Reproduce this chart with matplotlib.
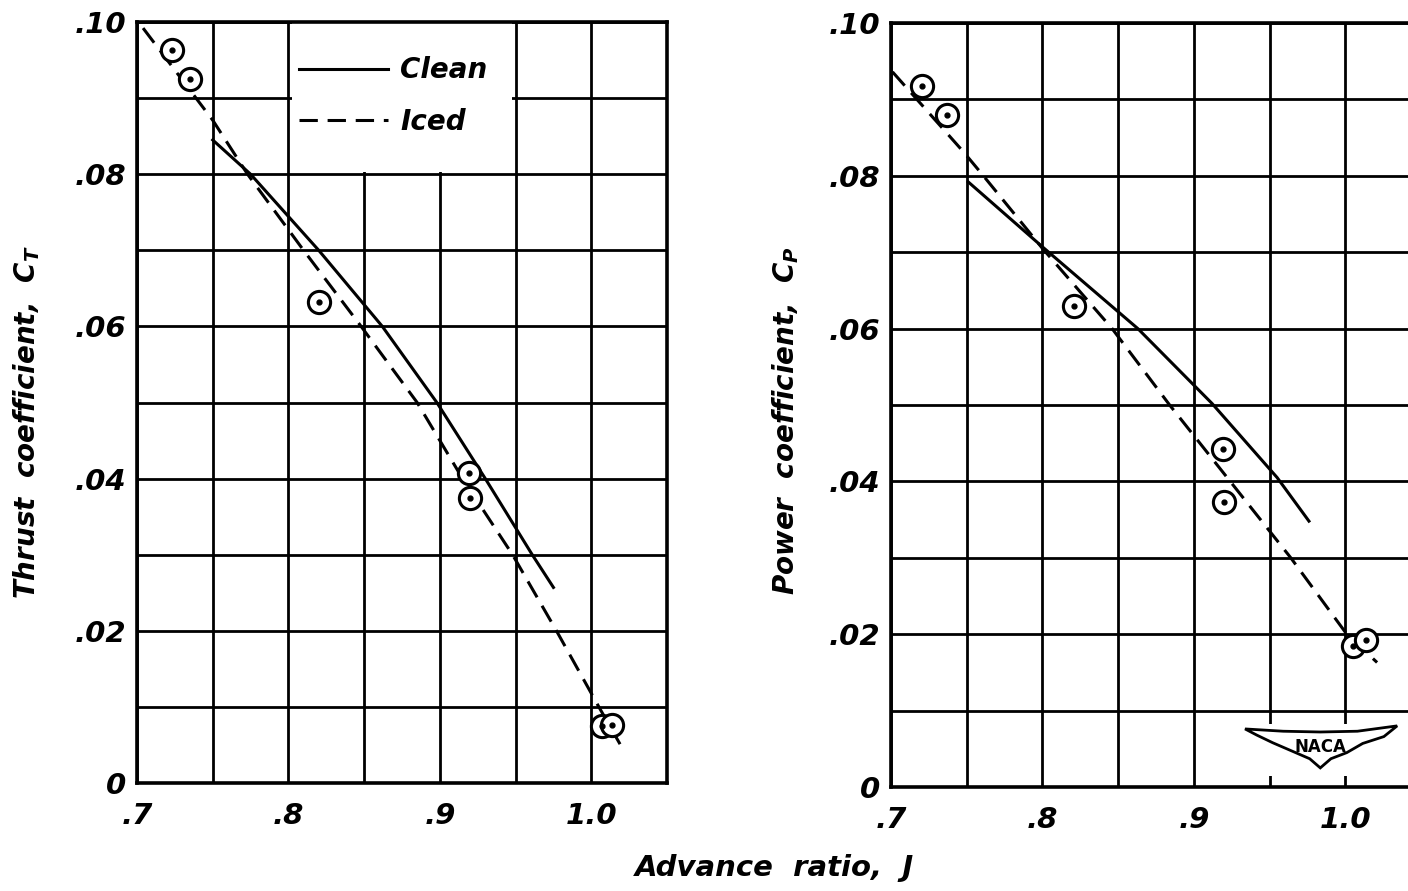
import numpy as np
import matplotlib
matplotlib.use("Agg")
import matplotlib.pyplot as plt
from matplotlib.patches import Rectangle, Polygon

plt.rcParams['font.family'] = ['DejaVu Sans']
plt.rcParams['font.weight'] = 'bold'
plt.rcParams['font.style'] = 'italic'
plt.rcParams['axes.labelweight'] = 'bold'
plt.rcParams['mathtext.fontset'] = 'custom'
plt.rcParams['mathtext.it'] = 'DejaVu Sans:italic:bold'
plt.rcParams['mathtext.rm'] = 'DejaVu Sans:italic:bold'

# thrust coefficient (left)
j_ct_clean = [0.750, 0.775, 0.820, 0.862, 0.898, 0.930, 0.961, 0.975]
ct_clean = [0.0845, 0.0800, 0.0700, 0.0600, 0.0500, 0.0400, 0.0300, 0.0257]
j_ct_iced = [0.704, 0.750, 0.773, 0.810, 0.848, 0.885, 0.915, 0.948, 0.977, 1.005, 1.019]
ct_iced = [0.0992, 0.0871, 0.0800, 0.0700, 0.0600, 0.0500, 0.0400, 0.0300, 0.0200, 0.0100, 0.0051]
j_ct_pts = [0.723, 0.735, 0.820, 0.919, 0.920, 1.007, 1.014]
ct_pts = [0.0963, 0.0925, 0.0632, 0.0407, 0.0375, 0.0075, 0.0076]

# power coefficient (right)
j_cp_clean = [0.751, 0.800, 0.863, 0.912, 0.955, 0.976]
cp_clean = [0.0792, 0.0707, 0.0600, 0.0502, 0.0405, 0.0348]
j_cp_iced = [0.701, 0.748, 0.761, 0.800, 0.846, 0.884, 0.924, 0.964, 1.001, 1.021]
cp_iced = [0.0936, 0.0831, 0.0800, 0.0705, 0.0600, 0.0500, 0.0400, 0.0300, 0.0200, 0.0163]
j_cp_pts = [0.7205, 0.737, 0.821, 0.919, 0.920, 1.005, 1.014]
cp_pts = [0.0917, 0.0879, 0.0630, 0.0442, 0.0373, 0.0185, 0.0193]

x_major = [0.7, 0.8, 0.9, 1.0]
x_labels = ['.7', '.8', '.9', '1.0']
y_major = [0, 0.02, 0.04, 0.06, 0.08, 0.10]
y_labels = ['0', '.02', '.04', '.06', '.08', '.10']

W, H = 1408, 891
fig = plt.figure(figsize=(W / 100, H / 100), dpi=100)
ax1 = fig.add_axes([137 / W, 1 - 783 / H, 530 / W, 761 / H])
ax2 = fig.add_axes([891 / W, 1 - 787 / H, 530 / W, 764 / H])

dash = (0, (6, 3.2))
lw = 2.2


def setup(ax):
    ax.set_xlim(0.7, 1.05)
    ax.set_ylim(0, 0.10)
    ax.set_xticks(x_major)
    ax.set_xticklabels(x_labels)
    ax.set_xticks(np.arange(0.75, 1.05, 0.1), minor=True)
    ax.set_yticks(y_major)
    ax.set_yticklabels(y_labels)
    ax.set_yticks(np.arange(0.01, 0.10, 0.02), minor=True)
    ax.grid(which='both', color='black', lw=2.0)
    ax.tick_params(which='both', length=0, labelsize=21)
    ax.tick_params(axis='x', pad=14)
    ax.tick_params(axis='y', pad=8)
    for s in ax.spines.values():
        s.set_linewidth(2.6)
    ax.set_axisbelow(True)


def draw(ax, jc, yc, ji, yi, jp, yp):
    ax.plot(jc, yc, color='black', lw=lw, label='Clean', zorder=3,
            solid_joinstyle='round')
    ax.plot(ji, yi, color='black', lw=lw, ls=dash, label='Iced', zorder=3)
    ax.plot(jp, yp, ls='none', marker='o', ms=16, mfc='white', mec='black',
            mew=2.2, zorder=4)
    ax.plot(jp, yp, ls='none', marker='o', ms=3.5, color='black', zorder=5)


setup(ax1)
setup(ax2)
draw(ax1, j_ct_clean, ct_clean, j_ct_iced, ct_iced, j_ct_pts, ct_pts)
draw(ax2, j_cp_clean, cp_clean, j_cp_iced, cp_iced, j_cp_pts, cp_pts)

# legend box blanks out the grid
ax1.add_patch(Rectangle((0.8025, 0.0803), 0.145, 0.0197, facecolor='white',
                        edgecolor='none', zorder=2))
leg = ax1.legend(loc='upper left', bbox_to_anchor=(0.305, 0.955), frameon=False,
                 fontsize=20, handlelength=3.2, handletextpad=0.45,
                 labelspacing=0.85, borderpad=0, borderaxespad=0)

ax1.set_ylabel(r'Thrust  coefficient,  $C_T$', fontsize=20)
ax1.yaxis.set_label_coords(-0.18, 0.474)
ax2.set_ylabel(r'Power  coefficient,  $C_P$', fontsize=20)
ax2.yaxis.set_label_coords(-0.17, 0.480)

fig.text(775 / W, 1 - 868 / H, 'Advance  ratio,  J', fontsize=21,
         ha='center', va='center')

# NACA wing logo (axes fractions)
tr = ax2.transAxes
ax2.add_patch(Rectangle((0.69, 0.014), 0.24, 0.069, transform=tr,
                        facecolor='white', edgecolor='none', zorder=2))
wing = [(0.668, 0.076), (0.74, 0.073), (0.81, 0.072), (0.88, 0.073),
        (0.955, 0.080), (0.93, 0.066), (0.89, 0.057), (0.86, 0.045),
        (0.83, 0.037), (0.81, 0.025), (0.79, 0.037), (0.76, 0.046),
        (0.72, 0.058), (0.69, 0.068)]
ax2.add_patch(Polygon(wing, closed=True, transform=tr, facecolor='white',
                      edgecolor='black', lw=2.0, zorder=6))
ax2.text(0.81, 0.053, 'NACA', transform=tr, fontsize=12, style='normal',
         ha='center', va='center', zorder=7)

fig.savefig('out.png', dpi=100)
